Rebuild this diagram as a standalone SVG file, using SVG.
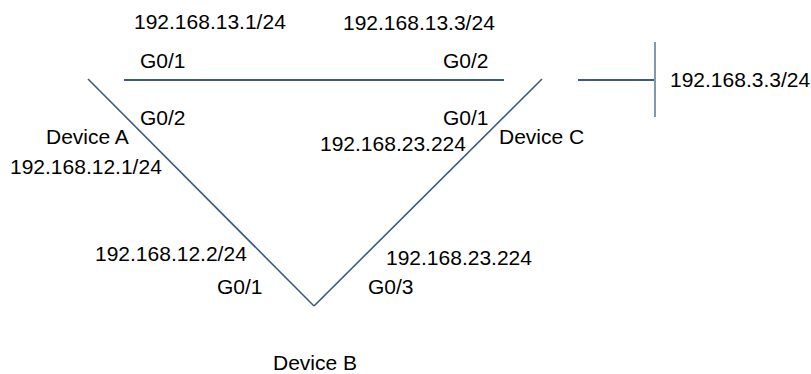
<svg xmlns="http://www.w3.org/2000/svg" width="811" height="374" viewBox="0 0 811 374">
<style>
text{font-family:"Liberation Sans",Arial,sans-serif;font-size:21px;fill:#000}
.link{stroke:#3c5a84;stroke-width:2;fill:none}
.diag{stroke:#3c5a84;stroke-width:1.6;fill:none}
.net{stroke:#8497b0;stroke-width:2;fill:none}
</style>
<rect width="811" height="374" fill="#fff"/>
<g id="connectors">
<line class="link" x1="124" y1="80" x2="504" y2="80"/>
<line class="diag" x1="88" y1="79" x2="314" y2="306"/>
<line class="diag" x1="314" y1="306" x2="542" y2="79"/>
<line class="link" x1="578" y1="80" x2="655" y2="80"/>
<line class="net" x1="655" y1="42" x2="655" y2="117"/>
</g>
<g id="device-a">
<text x="46" y="144">Device A</text>
<text x="140" y="68">G0/1</text>
<text x="134" y="29">192.168.13.1/24</text>
<text x="140" y="125">G0/2</text>
<text x="10" y="174">192.168.12.1/24</text>
</g>
<g id="device-c">
<text x="499" y="144">Device C</text>
<text x="443" y="68">G0/2</text>
<text x="343" y="30">192.168.13.3/24</text>
<text x="443" y="125">G0/1</text>
<text x="320" y="151">192.168.23.224</text>
</g>
<g id="device-b">
<text x="273" y="370">Device B</text>
<text x="217" y="294">G0/1</text>
<text x="95" y="261">192.168.12.2/24</text>
<text x="368" y="294">G0/3</text>
<text x="386" y="265">192.168.23.224</text>
</g>
<g id="network">
<text x="670" y="87">192.168.3.3/24</text>
</g>
</svg>
